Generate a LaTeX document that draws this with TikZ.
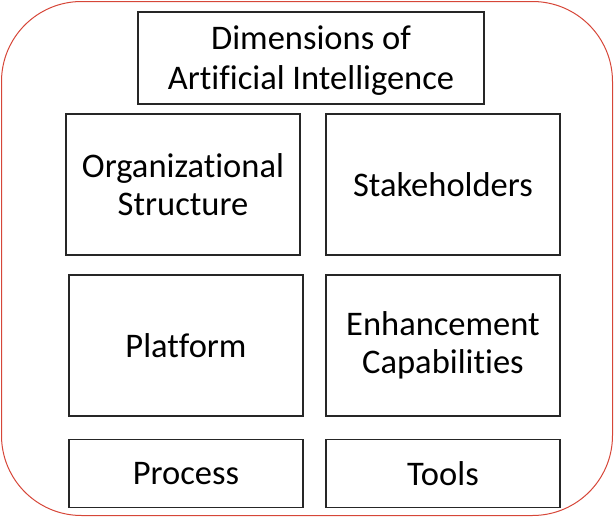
\documentclass[tikz,border=0pt]{standalone}
\usepackage{fontspec}
\setmainfont[Ligatures=NoCommon]{Carlito}
\definecolor{bordred}{RGB}{214,70,56}
\begin{document}
\begin{tikzpicture}[x=1pt,y=-1pt,
  box/.style={draw=black!85,line width=1.3pt,align=center,font=\fontsize{34.5}{38.5}\selectfont,inner sep=0pt},
  outer/.style={draw=bordred,line width=1pt,rounded corners=80pt}]
\useasboundingbox (0,0) rectangle (614,517);
\draw[outer] (1.5,1.5) rectangle (612.5,515.5);
\node[box,minimum width=346pt,minimum height=92pt] (title) at (311,58) {};
\node[align=center,font=\fontsize{34.5}{40.5}\selectfont,inner sep=0pt] (titletext) at (311,60.5) {Dimensions of\\Artificial Intelligence};
\node[box,minimum width=234pt,minimum height=141pt] (org) at (183,184.5) {Organizational\\Structure};
\node[box,minimum width=234pt,minimum height=141pt] (stake) at (443,184.5) {Stakeholders};
\node[box,minimum width=234pt,minimum height=141pt] (plat) at (186,345.5) {Platform};
\node[box,minimum width=234pt,minimum height=141pt] (enh) at (443,345.5) {Enhancement\\Capabilities};
\node[box,minimum width=234pt,minimum height=68pt] (proc) at (186,473.5) {Process};
\node[box,minimum width=234pt,minimum height=68pt] (tools) at (443,473.5) {Tools};
\end{tikzpicture}
\end{document}
